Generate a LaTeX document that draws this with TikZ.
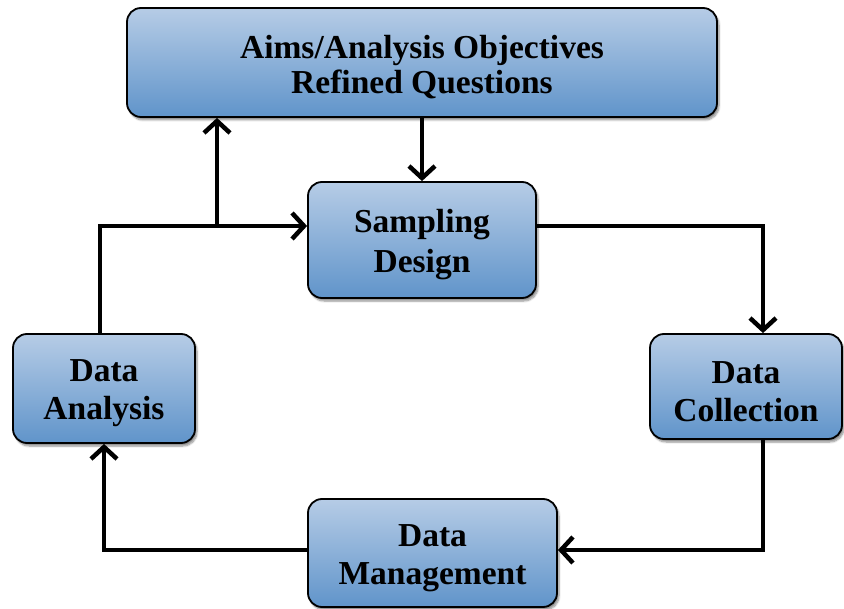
\documentclass[tikz,border=0pt]{standalone}
\usepackage{fontspec}
\setmainfont{Liberation Serif}
\usetikzlibrary{arrows.meta,shadows.blur}
\definecolor{boxtop}{RGB}{182,204,230}
\definecolor{boxbot}{RGB}{96,148,202}
\newcommand{\downstrut}{\rule{0pt}{32pt}}
\tikzset{
  stagebox/.style={draw=black, line width=1.8pt, rounded corners=14pt,
    top color=boxtop, bottom color=boxbot, align=center, inner sep=0pt,
    font=\bfseries\fontsize{33.5}{38}\selectfont,
    blur shadow={shadow xshift=2pt, shadow yshift=-3pt, shadow blur steps=6, shadow opacity=45}},
  arr/.style={line width=4.5pt, -{Straight Barb[length=12pt,width=26pt,line width=4.5pt]}}
}
\begin{document}
\begin{tikzpicture}[x=1pt,y=-1pt]
\useasboundingbox (0,0) rectangle (844,609);
\node[stagebox, minimum width=590pt, minimum height=109pt, font=\bfseries\fontsize{33.5}{35}\selectfont] (top) at (422,62.5) {\downstrut Aims/Analysis Objectives\\Refined Questions};
\node[stagebox, minimum width=228pt, minimum height=116pt] (samp) at (422,240) {\downstrut Sampling\\[2pt]Design};
\node[stagebox, minimum width=182pt, minimum height=109pt] (anal) at (104,388.5) {\downstrut Data\\Analysis};
\node[stagebox, minimum width=192pt, minimum height=105pt] (coll) at (746,386.5) {\downstrut Data\\Collection};
\node[stagebox, minimum width=249pt, minimum height=108pt] (mgmt) at (432.5,553) {\downstrut Data\\Management};
\coordinate (j) at (217,226);
\draw[arr] (top.south) -- (samp.north);
\draw[arr] ([xshift=-4pt]anal.north) |- ([yshift=14pt]samp.west);
\draw[arr] (j) -- (j |- top.south);
\draw[arr] ([yshift=14pt]samp.east) -| ([xshift=17pt]coll.north);
\draw[arr] ([xshift=17pt]coll.south) |- ([yshift=3pt]mgmt.east);
\draw[arr] ([yshift=3pt]mgmt.west) -| (anal.south);
\end{tikzpicture}
\end{document}
